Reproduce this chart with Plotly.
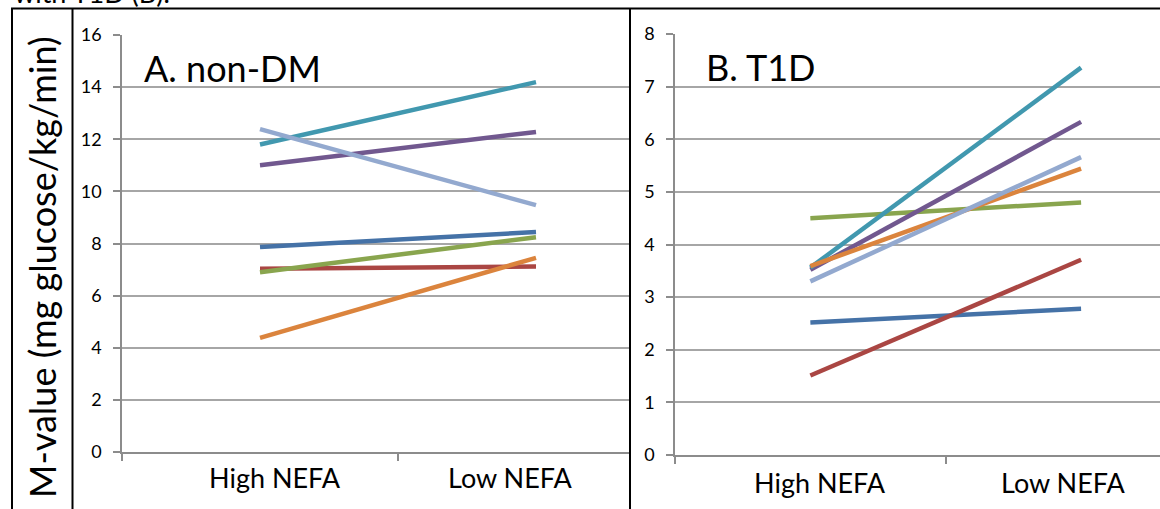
import plotly.graph_objects as go

W, H = 1160, 509

categories = ["High NEFA", "Low NEFA"]
series_colors = ["#4572A7", "#AA4643", "#89A54E", "#71588F", "#4198AF", "#DB843D", "#93A9CF"]

# Panel A: non-DM (one list per subject: High NEFA, Low NEFA)
nondm_blue = [7.87, 8.44]
nondm_red = [7.03, 7.12]
nondm_green = [6.90, 8.24]
nondm_purple = [11.00, 12.28]
nondm_teal = [11.80, 14.19]
nondm_orange = [4.38, 7.45]
nondm_lightblue = [12.39, 9.47]

# Panel B: T1D
t1d_blue = [2.52, 2.78]
t1d_red = [1.51, 3.71]
t1d_green = [4.50, 4.80]
t1d_purple = [3.52, 6.33]
t1d_teal = [3.56, 7.36]
t1d_orange = [3.59, 5.44]
t1d_lightblue = [3.30, 5.66]

nondm_ticks = [0, 2, 4, 6, 8, 10, 12, 14, 16]
t1d_ticks = [0, 1, 2, 3, 4, 5, 6, 7, 8]

nondm_series = [nondm_blue, nondm_red, nondm_green, nondm_purple, nondm_teal, nondm_orange, nondm_lightblue]
t1d_series = [t1d_blue, t1d_red, t1d_green, t1d_purple, t1d_teal, t1d_orange, t1d_lightblue]

FONT = "Lato, 'Open Sans', sans-serif"
xpos = list(range(len(categories)))

def px(x):
    return x / W

def py(y):
    return 1 - y / H

fig = go.Figure()
for vals, col in zip(nondm_series, series_colors):
    fig.add_trace(go.Scatter(x=xpos, y=vals, mode="lines", line=dict(color=col, width=4.5),
                             xaxis="x", yaxis="y", showlegend=False, hoverinfo="y"))
for vals, col in zip(t1d_series, series_colors):
    fig.add_trace(go.Scatter(x=xpos, y=vals, mode="lines", line=dict(color=col, width=4.5),
                             xaxis="x2", yaxis="y2", showlegend=False, hoverinfo="y"))

grid = "#A6A6A6"
axc = "#8C8C8C"

common_x = dict(showgrid=False, zeroline=False, showline=True, linecolor=axc, linewidth=1.5,
                ticks="outside", ticklen=7, tickcolor=axc, tickwidth=1.5, automargin=False,
                tickvals=[-0.5, 0.5], showticklabels=False, fixedrange=True)
common_y = dict(showgrid=True, gridcolor=grid, gridwidth=1.5, zeroline=False, showline=True,
                linecolor=axc, linewidth=1.5, ticks="outside", ticklen=7, tickcolor=axc,
                tickwidth=1.5, tickfont=dict(family=FONT, size=18, color="black"),
                ticklabelstandoff=8, fixedrange=True, automargin=False)

fig.update_layout(
    template="none",
    width=W, height=H, margin=dict(l=0, r=0, t=0, b=0, pad=0, autoexpand=False),
    paper_bgcolor="white", plot_bgcolor="white",
    font=dict(family=FONT, color="black"),
    xaxis=dict(domain=[px(122), px(630)], range=[-0.5, (630 - 260) / 276], anchor="y", **common_x),
    yaxis=dict(domain=[py(452), py(35)], range=[0, 16], tickvals=nondm_ticks, anchor="x", **common_y),
    xaxis2=dict(domain=[px(675), 1.0], range=[-0.5, (1160 - 810) / 271], anchor="y2", **common_x),
    yaxis2=dict(domain=[py(455), py(34)], range=[0, 8], tickvals=t1d_ticks, anchor="x2", **common_y),
)

ann = []
# category labels
for xa, xs, yc in [("x", [0.054, 0.906], 477), ("x2", [0.037, 0.934], 482)]:
    for c, xv in zip(categories, xs):
        ann.append(dict(text=c, x=xv, xref=xa, y=py(yc), yref="paper", showarrow=False,
                        xanchor="center", yanchor="middle", font=dict(size=27, family=FONT)))
# panel titles
ann.append(dict(text="A. non-DM", x=px(142), y=py(68), xref="paper", yref="paper", showarrow=False,
                xanchor="left", yanchor="middle", font=dict(size=36, family=FONT)))
ann.append(dict(text="B. T1D", x=px(704), y=py(67), xref="paper", yref="paper", showarrow=False,
                xanchor="left", yanchor="middle", font=dict(size=36, family=FONT)))
# y-axis title
ann.append(dict(text="M-value (mg glucose/kg/min)", x=px(42), y=py(267), xref="paper", yref="paper",
                showarrow=False, textangle=-90, xanchor="center", yanchor="middle",
                font=dict(size=36, family=FONT)))
# caption fragment cut at top
ann.append(dict(text="with T1D (B).", x=px(12), y=py(-7), xref="paper", yref="paper", showarrow=False,
                xanchor="left", yanchor="middle", font=dict(size=27, family=FONT)))
fig.update_layout(annotations=ann)

shapes = []
for (x0, y0, x1, y1) in [(11, 8.5, 1160, 8.5), (12, 8, 12, 509), (72.5, 8, 72.5, 509), (630, 8, 630, 509)]:
    shapes.append(dict(type="line", xref="paper", yref="paper", x0=px(x0), y0=py(y0), x1=px(x1), y1=py(y1),
                       line=dict(color="black", width=2)))
fig.update_layout(shapes=shapes)

fig.write_html("out.html", config={"responsive": False, "displayModeBar": False},
               post_script="document.body.style.margin='0';document.body.style.overflow='hidden';")
